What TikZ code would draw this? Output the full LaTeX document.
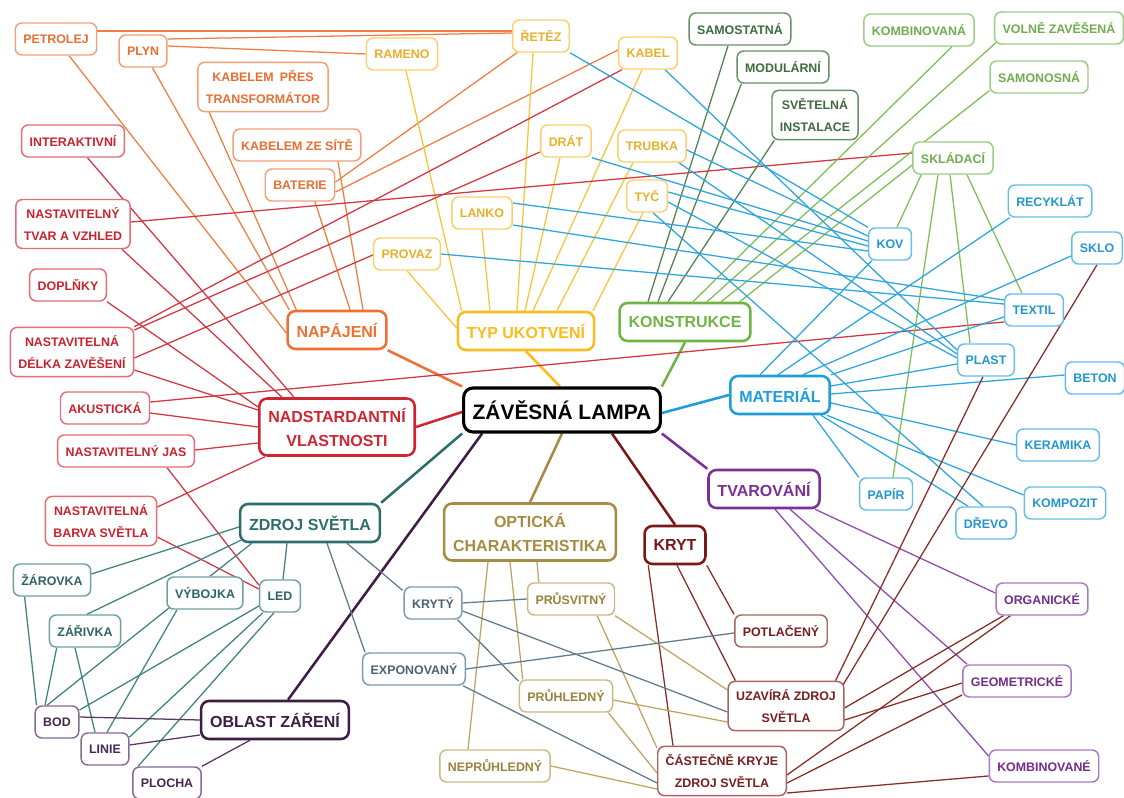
\documentclass[tikz,border=0pt]{standalone}
\usepackage{fontspec}
\setmainfont{Liberation Sans}
\usetikzlibrary{calc,backgrounds}
% colours: T text, B border, L line, M main branch
\definecolor{orT}{RGB}{232,110,50}\definecolor{orB}{RGB}{242,160,120}\definecolor{orL}{RGB}{240,125,65}\definecolor{orM}{RGB}{237,113,50}
\definecolor{yeT}{RGB}{232,175,40}\definecolor{yeB}{RGB}{250,208,110}\definecolor{yeL}{RGB}{250,195,60}\definecolor{yeM}{RGB}{250,188,30}
\definecolor{dgT}{RGB}{62,108,62}\definecolor{dgB}{RGB}{105,145,105}\definecolor{dgL}{RGB}{80,130,80}
\definecolor{lgT}{RGB}{112,172,80}\definecolor{lgB}{RGB}{155,205,130}\definecolor{lgL}{RGB}{125,190,85}\definecolor{lgM}{RGB}{112,180,70}
\definecolor{blT}{RGB}{35,150,205}\definecolor{blB}{RGB}{100,190,232}\definecolor{blL}{RGB}{45,165,222}\definecolor{blM}{RGB}{30,157,220}
\definecolor{puT}{RGB}{115,45,140}\definecolor{puB}{RGB}{170,120,195}\definecolor{puL}{RGB}{140,75,170}\definecolor{puM}{RGB}{122,48,150}
\definecolor{krT}{RGB}{120,30,30}\definecolor{krB}{RGB}{170,100,100}\definecolor{krL}{RGB}{135,45,40}\definecolor{krM}{RGB}{122,24,24}
\definecolor{tnT}{RGB}{155,130,60}\definecolor{tnB}{RGB}{205,185,135}\definecolor{tnL}{RGB}{190,165,95}\definecolor{tnM}{RGB}{166,140,66}
\definecolor{dpT}{RGB}{70,40,80}\definecolor{dpB}{RGB}{135,105,145}\definecolor{dpL}{RGB}{85,55,95}\definecolor{dpM}{RGB}{62,28,70}
\definecolor{tlT}{RGB}{45,100,100}\definecolor{tlB}{RGB}{110,160,160}\definecolor{tlL}{RGB}{65,130,128}\definecolor{tlM}{RGB}{44,110,108}
\definecolor{rdT}{RGB}{200,35,45}\definecolor{rdB}{RGB}{228,110,115}\definecolor{rdL}{RGB}{210,55,65}\definecolor{rdM}{RGB}{205,38,50}
\definecolor{slT}{RGB}{75,98,118}\definecolor{slB}{RGB}{125,155,175}\definecolor{slL}{RGB}{95,122,142}
\newcommand\fsubtxt{\fontsize{9.3}{16.5}\selectfont\bfseries}
\newcommand\fbrtxt{\fontsize{12}{18}\selectfont\bfseries}
\newcommand\fctrtxt{\fontsize{15.7}{18}\selectfont\bfseries}
\begin{document}
\begin{tikzpicture}[x=0.75pt,y=-0.75pt,
  subnode/.style={draw=#1B, text=#1T, fill=white, rounded corners=5pt, line width=1.1pt, font=\fsubtxt, inner xsep=6pt, inner ysep=6pt, minimum height=24pt, align=center},
  brnode/.style={draw=#1M, text=#1M, fill=white, rounded corners=6pt, line width=1.9pt, font=\fbrtxt, inner xsep=6.75pt, inner ysep=7pt, minimum height=28.5pt, align=center},
  lampnode/.style={draw=black, text=black, fill=white, rounded corners=7pt, line width=2.3pt, font=\fctrtxt, inner xsep=6.75pt, minimum height=33pt},
  subline/.style={draw=#1L, line width=0.95pt},
  brline/.style={draw=#1M, line width=1.9pt}]
\useasboundingbox (0,0) rectangle (1124,798);
% ---------- centre and branches
\node[lampnode] (lamp) at (562,410) {ZÁVĚSNÁ LAMPA};
\node[brnode=or] (napajeni) at (337,330) {NAPÁJENÍ};
\node[brnode=ye] (typ) at (526,331) {TYP UKOTVENÍ};
\node[brnode=lg] (konstrukce) at (685,322) {KONSTRUKCE};
\node[brnode=bl] (material) at (780,395) {MATERIÁL};
\node[brnode=pu] (tvarovani) at (764,489) {TVAROVÁNÍ};
\node[brnode=kr] (kryt) at (675,545) {KRYT};
\node[brnode=tn] (opticka) at (530,532) {OPTICKÁ\\CHARAKTERISTIKA};
\node[brnode=dp] (oblast) at (275,720) {OBLAST ZÁŘENÍ};
\node[brnode=tl] (zdroj) at (310,523) {ZDROJ SVĚTLA};
\node[brnode=rd] (nad) at (337,427) {NADSTARDANTNÍ\\VLASTNOSTI};
% ---------- orange
\node[subnode=or] (petrolej) at (56,39) {PETROLEJ};
\node[subnode=or] (plyn) at (143,51) {PLYN};
\node[subnode=or] (transf) at (263,87) {KABELEM\enspace PŘES\\TRANSFORMÁTOR};
\node[subnode=or] (sit) at (297,145) {KABELEM ZE SÍTĚ};
\node[subnode=or] (baterie) at (300,185) {BATERIE};
% ---------- yellow
\node[subnode=ye] (rameno) at (402,54) {RAMENO};
\node[subnode=ye] (retez) at (541,36) {ŘETĚZ};
\node[subnode=ye] (kabel) at (648,53) {KABEL};
\node[subnode=ye] (drat) at (566,141) {DRÁT};
\node[subnode=ye] (trubka) at (652,146) {TRUBKA};
\node[subnode=ye] (tyc) at (647,196) {TYČ};
\node[subnode=ye] (lanko) at (482,213) {LANKO};
\node[subnode=ye] (provaz) at (407,254) {PROVAZ};
% ---------- greens
\node[subnode=dg] (samostatna) at (740,29) {SAMOSTATNÁ};
\node[subnode=dg] (modularni) at (783,67) {MODULÁRNÍ};
\node[subnode=dg] (instalace) at (815,115) {SVĚTELNÁ\\INSTALACE};
\node[subnode=lg] (kombinovana) at (919,30) {KOMBINOVANÁ};
\node[subnode=lg] (volne) at (1059,28) {VOLNĚ ZAVĚŠENÁ};
\node[subnode=lg] (samonosna) at (1039,77) {SAMONOSNÁ};
\node[subnode=lg] (skladaci) at (953,158) {SKLÁDACÍ};
% ---------- blue
\node[subnode=bl] (recyklat) at (1050,201) {RECYKLÁT};
\node[subnode=bl] (kov) at (890,244) {KOV};
\node[subnode=bl] (sklo) at (1097,248) {SKLO};
\node[subnode=bl] (textil) at (1034,310) {TEXTIL};
\node[subnode=bl] (plast) at (986,360) {PLAST};
\node[subnode=bl] (beton) at (1095,378) {BETON};
\node[subnode=bl] (keramika) at (1058,445) {KERAMIKA};
\node[subnode=bl] (papir) at (886,494) {PAPÍR};
\node[subnode=bl] (kompozit) at (1065,503) {KOMPOZIT};
\node[subnode=bl] (drevo) at (986,523) {DŘEVO};
% ---------- red
\node[subnode=rd] (interaktivni) at (73,141) {INTERAKTIVNÍ};
\node[subnode=rd] (tvar) at (73,224) {NASTAVITELNÝ\\TVAR A VZHLED};
\node[subnode=rd] (doplnky) at (68,285) {DOPLŇKY};
\node[subnode=rd] (delka) at (72,352) {NASTAVITELNÁ\\DÉLKA ZAVĚŠENÍ};
\node[subnode=rd] (akusticka) at (105,408) {AKUSTICKÁ};
\node[subnode=rd] (jas) at (126,451) {NASTAVITELNÝ JAS};
\node[subnode=rd] (barva) at (101,521) {NASTAVITELNÁ\\BARVA SVĚTLA};
% ---------- teal / slate
\node[subnode=tl] (zarovka) at (52,580) {ŽÁROVKA};
\node[subnode=tl] (vybojka) at (205,593) {VÝBOJKA};
\node[subnode=tl] (led) at (280,596) {LED};
\node[subnode=tl] (zarivka) at (85,631) {ZÁŘIVKA};
\node[subnode=sl] (kryty) at (433,603) {KRYTÝ};
\node[subnode=sl] (exponovany) at (414,669) {EXPONOVANÝ};
% ---------- tan
\node[subnode=tn] (prusvitny) at (571,599) {PRŮSVITNÝ};
\node[subnode=tn] (pruhledny) at (566,696) {PRŮHLEDNÝ};
\node[subnode=tn] (nepruhledny) at (495,766) {NEPRŮHLEDNÝ};
% ---------- dark red
\node[subnode=kr] (potlaceny) at (781,631) {POTLAČENÝ};
\node[subnode=kr] (uzavira) at (786,706) {UZAVÍRÁ ZDROJ\\SVĚTLA};
\node[subnode=kr] (castecne) at (722,771) {ČÁSTEČNĚ KRYJE\\ZDROJ SVĚTLA};
% ---------- purple
\node[subnode=pu] (organicke) at (1042,599) {ORGANICKÉ};
\node[subnode=pu] (geometricke) at (1017,681) {GEOMETRICKÉ};
\node[subnode=pu] (kombinovane) at (1044,766) {KOMBINOVANÉ};
% ---------- dark purple
\node[subnode=dp] (bod) at (57,722) {BOD};
\node[subnode=dp] (linie) at (105,749) {LINIE};
\node[subnode=dp] (plocha) at (167,783) {PLOCHA};

\begin{scope}[on background layer]
\fill[white] (0,0) rectangle (1124,798);
% ---- centre to branches
\draw[brline=or] (napajeni.south east) -- (lamp.north west);
\draw[brline=ye] (typ.south) -- ($(lamp.north)+(-2,0)$);
\draw[brline=lg] (konstrukce.south) -- (lamp.north east);
\draw[brline=bl] (material.west) -- ($(lamp.east)+(0,3)$);
\draw[brline=pu] (tvarovani.north west) -- (lamp.south east);
\draw[brline=kr] (kryt.north) -- ($(lamp.south)+(50,0)$);
\draw[brline=tn] (opticka.north) -- (lamp.south);
\draw[brline=dp] ($(oblast.north)+(13,0)$) -- ($(lamp.south west)+(20,0)$);
\draw[brline=tl] (zdroj.north east) -- (lamp.south west);
\draw[brline=rd] (nad.east) -- ($(lamp.west)+(0,2)$);
% ---- orange
\draw[subline=or] (petrolej) -- ($(napajeni.west)+(0,3)$);
\draw[subline=or] (plyn) -- ($(napajeni.north west)+(3,0)$);
\draw[subline=or] ($(transf.south west)+(12,0)$) -- ($(napajeni.north west)+(10,0)$);
\draw[subline=or] ($(baterie.south)+(15,0)$) -- ($(napajeni.north)+(13,0)$);
\draw[subline=or] ($(sit.south)+(41,0)$) -- ($(napajeni.north)+(26,0)$);
\draw[subline=or] ($(petrolej.east)+(0,-8)$) -- ($(retez.west)+(0,-5)$);
\draw[subline=or] ($(plyn.east)+(0,-12)$) -- ($(retez.west)+(0,-3)$);
\draw[subline=or] ($(plyn.east)+(0,-5)$) -- (rameno.west);
\draw[subline=or] ($(baterie.east)+(0,-3)$) -- ($(retez.south west)+(5,0)$);
\draw[subline=or] ($(baterie.east)+(0,7)$) -- ($(kabel.west)+(0,-3)$);
% ---- yellow
\draw[subline=ye] ($(rameno.south)+(4,0)$) -- ($(typ.north west)+(5,0)$);
\draw[subline=ye] (lanko.south) -- ($(typ.north)+(-36,0)$);
\draw[subline=ye] ($(retez.south)+(-8,0)$) -- ($(typ.north)+(-9,0)$);
\draw[subline=ye] ($(drat.south)+(-6,0)$) -- ($(typ.north)+(-1,0)$);
\draw[subline=ye] ($(kabel.south)+(-6,0)$) -- ($(typ.north)+(7,0)$);
\draw[subline=ye] ($(trubka.south)+(-19,0)$) -- ($(typ.north)+(31,0)$);
\draw[subline=ye] ($(tyc.south)+(-4,0)$) -- ($(typ.north)+(67,0)$);
\draw[subline=ye] (provaz.south) -- ($(typ.west)+(0,-3)$);
% ---- red
\draw[subline=rd] (interaktivni) -- ($(nad.north west)+(36,0)$);
\draw[subline=rd] ($(tvar.south east)+(-9,0)$) -- ($(nad.north west)+(24,0)$);
\draw[subline=rd] (doplnky.south east) -- ($(nad.west)+(0,-20)$);
\draw[subline=rd] ($(delka.east)+(0,18)$) -- ($(nad.west)+(0,-17)$);
\draw[subline=rd] ($(akusticka.east)+(0,5)$) -- (nad.west);
\draw[subline=rd] ($(jas.east)+(0,-1)$) -- ($(nad.west)+(0,16)$);
\draw[subline=rd] ($(barva.east)+(0,-14)$) -- ($(nad.south west)+(7,0)$);
\draw[subline=rd] (delka.north east) -- ($(kabel.south west)+(4,0)$);
\draw[subline=rd] ($(delka.east)+(0,-22)$) -- ($(drat.west)+(0,11)$);
\draw[subline=rd] ($(delka.east)+(0,6)$) -- ($(provaz.west)+(0,1)$);
\draw[subline=rd] ($(tvar.east)+(0,-2)$) -- ($(skladaci.west)+(0,-5)$);
\draw[subline=rd] ($(akusticka.east)+(0,-6)$) -- ($(textil.west)+(0,12)$);
\draw[subline=rd] ($(jas.south)+(41,0)$) -- ($(led.west)+(0,-11)$);
\draw[subline=rd] ($(barva.east)+(0,16)$) -- ($(led.west)+(0,-7)$);
% ---- greens
\draw[subline=dg] ($(samostatna.south)+(-12,0)$) -- ($(konstrukce.north)+(-37,0)$);
\draw[subline=dg] ($(modularni.south west)+(5,0)$) -- ($(konstrukce.north)+(-27,0)$);
\draw[subline=dg] ($(instalace.south west)+(3,0)$) -- ($(konstrukce.north)+(-17,0)$);
\draw[subline=lg] ($(kombinovana.south)+(33,0)$) -- ($(konstrukce.north)+(8,0)$);
\draw[subline=lg] ($(volne.south west)+(2,-2)$) -- ($(konstrukce.north)+(22,0)$);
\draw[subline=lg] ($(samonosna.south west)+(0,-3)$) -- ($(konstrukce.north)+(36,0)$);
\draw[subline=lg] ($(skladaci.west)+(0,7)$) -- ($(konstrukce.north east)+(-12,0)$);
\draw[subline=lg] ($(skladaci.south west)+(9,0)$) -- ($(kov.north)+(7,0)$);
\draw[subline=lg] ($(skladaci.south)+(-15,0)$) -- ($(papir.north)+(7,0)$);
\draw[subline=lg] ($(skladaci.south)+(-3,0)$) -- ($(plast.north)+(-16,0)$);
\draw[subline=lg] ($(skladaci.south)+(14,0)$) -- ($(textil.north)+(-12,0)$);
% ---- blue
\draw[subline=bl] ($(material.north)+(-20,0)$) -- ($(kov.south west)+(4,0)$);
\draw[subline=bl] ($(material.north)+(-2,0)$) -- ($(recyklat.south west)+(2,0)$);
\draw[subline=bl] ($(material.north)+(23,0)$) -- ($(sklo.west)+(0,8)$);
\draw[subline=bl] (material.north east) -- ($(textil.west)+(0,7)$);
\draw[subline=bl] ($(material.east)+(0,-9)$) -- ($(plast.west)+(0,4)$);
\draw[subline=bl] ($(material.east)+(0,-1)$) -- ($(beton.west)+(0,-3)$);
\draw[subline=bl] ($(material.east)+(0,8)$) -- (keramika.west);
\draw[subline=bl] ($(material.south east)+(-4,0)$) -- ($(kompozit.west)+(0,-8)$);
\draw[subline=bl] ($(material.south east)+(-10,0)$) -- ($(drevo.north west)+(13,0)$);
\draw[subline=bl] ($(material.south east)+(-18,0)$) -- (papir.north west);
\draw[subline=bl] (retez.south east) -- (kov.north west);
\draw[subline=bl] ($(trubka.east)+(0,4)$) -- ($(kov.west)+(0,-8)$);
\draw[subline=bl] (drat.south east) -- ($(kov.west)+(0,-3)$);
\draw[subline=bl] ($(tyc.east)+(0,-4)$) -- ($(kov.west)+(0,2)$);
\draw[subline=bl] ($(lanko.east)+(0,-10)$) -- ($(kov.west)+(0,7)$);
\draw[subline=bl] ($(kabel.south east)+(-13,0)$) -- ($(plast.west)+(0,-10)$);
\draw[subline=bl] ($(trubka.south east)+(-8,0)$) -- ($(plast.west)+(0,-6)$);
\draw[subline=bl] ($(tyc.east)+(0,6)$) -- ($(plast.west)+(0,-2)$);
\draw[subline=bl] ($(lanko.east)+(0,12)$) -- ($(textil.west)+(0,-10)$);
\draw[subline=bl] (provaz.east) -- ($(textil.west)+(0,-6)$);
\draw[subline=bl] ($(tyc.south)+(6,0)$) -- ($(drevo.north)+(-3,0)$);
% ---- purple
\draw[subline=pu] ($(tvarovani.south)+(51,0)$) -- ($(organicke.west)+(0,-6)$);
\draw[subline=pu] ($(tvarovani.south)+(26,0)$) -- ($(geometricke.north west)+(5,0)$);
\draw[subline=pu] ($(tvarovani.south)+(11,0)$) -- ($(kombinovane.west)+(0,-10)$);
% ---- dark red
\draw[subline=kr] (kryt.south east) -- (potlaceny.north west);
\draw[subline=kr] ($(kryt.south)+(2,0)$) -- ($(uzavira.north west)+(8,0)$);
\draw[subline=kr] ($(kryt.south west)+(5,0)$) -- ($(castecne.north)+(-49,0)$);
\draw[subline=kr] ($(plast.south)+(-3,0)$) -- ($(uzavira.north east)+(-9,0)$);
\draw[subline=kr] (sklo.south) -- ($(uzavira.north east)+(-2,5)$);
\draw[subline=kr] ($(uzavira.east)+(0,2)$) -- ($(organicke.south west)+(8,0)$);
\draw[subline=kr] ($(uzavira.east)+(0,14)$) -- ($(geometricke.west)+(0,2)$);
\draw[subline=kr] ($(castecne.east)+(0,4)$) -- ($(organicke.south west)+(15,0)$);
\draw[subline=kr] ($(castecne.east)+(0,12)$) -- ($(geometricke.west)+(0,14)$);
\draw[subline=kr] ($(castecne.east)+(0,22)$) -- ($(kombinovane.west)+(0,10)$);
% ---- tan
\draw[subline=tn] ($(opticka.south)+(7,0)$) -- ($(prusvitny.north west)+(12,0)$);
\draw[subline=tn] ($(opticka.south)+(-20,0)$) -- ($(pruhledny.north west)+(4,0)$);
\draw[subline=tn] ($(opticka.south)+(-42,0)$) -- ($(nepruhledny.north)+(-27,0)$);
\draw[subline=tn] (prusvitny.south east) -- ($(uzavira.west)+(0,-16)$);
\draw[subline=tn] ($(prusvitny.south east)+(-18,0)$) -- ($(castecne.west)+(0,-23)$);
\draw[subline=tn] ($(pruhledny.east)+(0,4)$) -- ($(uzavira.west)+(0,16)$);
\draw[subline=tn] ($(pruhledny.south east)+(-5,0)$) -- ($(castecne.west)+(0,2)$);
\draw[subline=tn] (nepruhledny.east) -- ($(castecne.west)+(0,18)$);
% ---- slate
\draw[subline=sl] ($(zdroj.south)+(37,0)$) -- ($(kryty.north west)+(-1,4)$);
\draw[subline=sl] ($(zdroj.south)+(17,0)$) -- ($(exponovany.north west)+(3,0)$);
\draw[subline=sl] (kryty.east) -- (prusvitny.west);
\draw[subline=sl] ($(kryty.east)+(0,8)$) -- ($(uzavira.west)+(0,6)$);
\draw[subline=sl] ($(kryty.south east)+(-5,0)$) -- ($(pruhledny.north west)+(0,2)$);
\draw[subline=sl] (exponovany.east) -- ($(potlaceny.west)+(0,2)$);
\draw[subline=sl] ($(exponovany.south east)+(-3,0)$) -- ($(castecne.west)+(0,12)$);
% ---- teal
\draw[subline=tl] ($(zdroj.west)+(0,4)$) -- ($(zarovka.east)+(0,-6)$);
\draw[subline=tl] ($(zdroj.south west)+(2,-3)$) -- ($(zarivka.north)+(2,0)$);
\draw[subline=tl] ($(zdroj.south west)+(13,0)$) -- ($(vybojka.north)+(5,0)$);
\draw[subline=tl] ($(zdroj.south)+(-23,0)$) -- ($(led.north)+(3,0)$);
\draw[subline=tl] ($(zarovka.south west)+(12,0)$) -- ($(bod.north west)+(2,0)$);
\draw[subline=tl] ($(zarivka.south west)+(8,0)$) -- ($(bod.north)+(-12,0)$);
\draw[subline=tl] ($(zarivka.south)+(-10,0)$) -- ($(linie.north)+(-10,0)$);
\draw[subline=tl] ($(vybojka.south west)+(3,-2)$) -- ($(bod.north)+(-10,0)$);
\draw[subline=tl] ($(vybojka.south)+(-28,0)$) -- ($(linie.north)+(2,0)$);
\draw[subline=tl] ($(led.west)+(0,10)$) -- ($(bod.east)+(0,-12)$);
\draw[subline=tl] ($(led.south west)+(4,0)$) -- ($(linie.east)+(0,-12)$);
\draw[subline=tl] ($(led.south)+(-6,0)$) -- ($(plocha.north west)+(6,0)$);
% ---- dark purple
\draw[subline=dp] (oblast.west) -- ($(bod.east)+(0,-5)$);
\draw[subline=dp] ($(oblast.west)+(0,15)$) -- ($(linie.east)+(0,-4)$);
\draw[subline=dp] ($(oblast.south)+(-25,0)$) -- (plocha.north east);
\end{scope}
\end{tikzpicture}
\end{document}
